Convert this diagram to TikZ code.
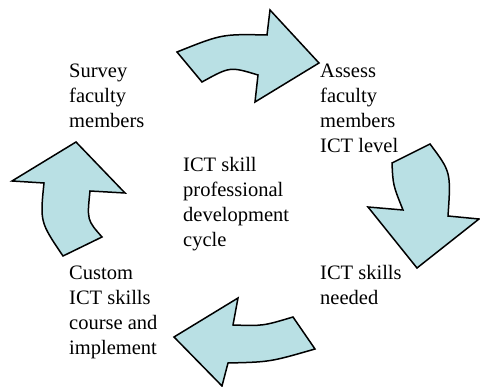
\documentclass[tikz,border=0pt]{standalone}
\usepackage{fontspec}
\setmainfont{Liberation Serif}
\definecolor{arrowfill}{RGB}{185,224,228}
\begin{document}
\begin{tikzpicture}[x=1pt,y=-1pt,
  cyclearrow/.style={draw=black,fill=arrowfill,line width=1.5pt,line join=miter},
  label/.style={anchor=base west,inner sep=0pt,align=left,
    font=\fontsize{20.5}{25}\selectfont}]
\useasboundingbox (0,0) rectangle (480,387);

% top arrow, pointing right
\draw[cyclearrow] (177,52) .. controls (222,34) .. (267,35) -- (270,10) -- (319,63)
  -- (255,102) -- (258,75) .. controls (230,66.5) .. (202,82) -- cycle;

% right arrow, pointing down
\draw[cyclearrow] (430,144) .. controls (451,172) .. (448,216) -- (479,219) -- (417,268)
  -- (368,207) -- (403,210) .. controls (393,185) .. (392,163) -- cycle;

% bottom arrow, pointing left
\draw[cyclearrow] (315,349) .. controls (270,362) .. (228,363) -- (222,386) -- (174,337)
  -- (238,298) -- (233,325) .. controls (263,326) .. (293,317) -- cycle;

% left arrow, pointing up
\draw[cyclearrow] (63,256) .. controls (40,222) .. (44,183) -- (12,181) -- (76,142)
  -- (125,193) -- (90,191) .. controls (87,220) .. (102,237) -- cycle;

% labels, each placed by the baseline of its last line
\node[label] (survey) at (69,128) {Survey\\faculty\\members};
\node[label] (assess) at (320,153) {Assess\\faculty\\members\\ICT level};
\node[label] (centre) at (183,247) {ICT skill\\professional\\development\\cycle};
\node[label] (needed) at (320,305) {ICT skills\\needed};
\node[label] (custom) at (69,355) {Custom\\ICT skills\\course and\\implement};
\end{tikzpicture}
\end{document}
